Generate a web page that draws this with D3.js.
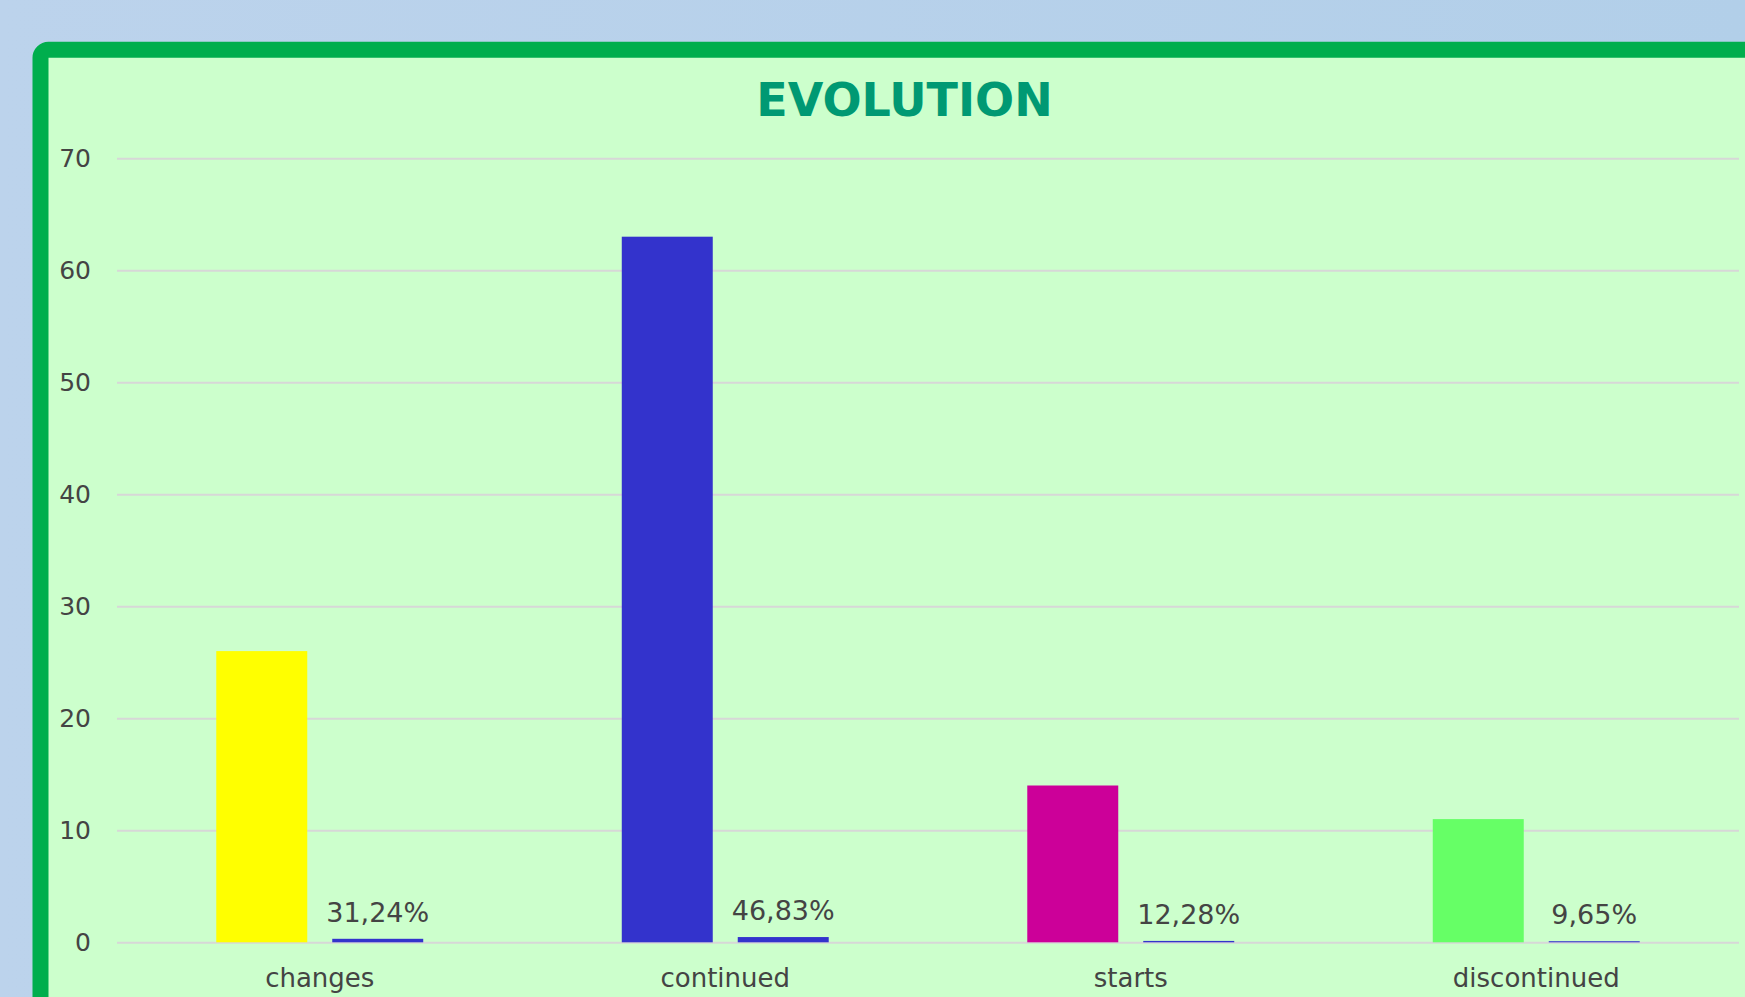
<!DOCTYPE html>
<html>
<head>
<meta charset="utf-8">
<script src="https://cdn.jsdelivr.net/npm/d3@7"></script>
<style>
  html, body { margin: 0; padding: 0; overflow: hidden; }
  body { width: 1745px; height: 997px; }
  svg { display: block; font-family: "DejaVu Sans", Verdana, sans-serif; }
</style>
</head>
<body>
<div id="chart"></div>
<script>
// Data
const categories = ['changes', 'continued', 'starts', 'discontinued'];
const counts = [26, 63, 14, 11];
const shares = [0.3124, 0.4683, 0.1228, 0.0965];
const barColors = ['#ffff00', '#3333cc', '#cc0099', '#66ff66'];
const shareColor = '#3333cc';
const yTicks = [0, 10, 20, 30, 40, 50, 60, 70];

// Layout
const W = 1745, H = 997;
const plotLeft = 117, plotRight = 1739;
const plotTop = 158.3, plotBottom = 942.3;

const svg = d3.select('#chart')
    .append('svg')
    .attr('width', W)
    .attr('height', H);

// Page background
const grad = svg.append('defs').append('linearGradient')
    .attr('id', 'bg').attr('x1', '0%').attr('x2', '100%');
grad.append('stop').attr('offset', '0%').attr('stop-color', '#bcd3ec');
grad.append('stop').attr('offset', '100%').attr('stop-color', '#b2cfe9');
svg.append('rect').attr('width', W).attr('height', H).attr('fill', 'url(#bg)');

// Panel with thick green border (runs off the right and bottom edges)
svg.append('rect')
    .attr('x', 40.5).attr('y', 49.7)
    .attr('width', 1800).attr('height', 1100)
    .attr('rx', 8)
    .attr('fill', '#ccffcc')
    .attr('stroke', '#00ae4d')
    .attr('stroke-width', 16);

// Title
svg.append('text')
    .attr('x', 904.5).attr('y', 116)
    .attr('text-anchor', 'middle')
    .attr('font-size', '46px')
    .attr('font-weight', 'bold')
    .attr('fill', '#009973')
    .text('EVOLUTION');

// Scales
const x0 = d3.scaleBand()
    .domain(categories)
    .range([plotLeft, plotRight])
    .padding(0);

const x1 = d3.scaleBand()
    .domain(['count', 'share'])
    .range([0, x0.bandwidth()])
    .paddingInner(0.2155)
    .paddingOuter(0.856);

const yScale = d3.scaleLinear()
    .domain([0, 70])
    .range([plotBottom, plotTop]);

// Y axis with gridlines
const yAxis = svg.append('g')
    .attr('transform', `translate(${plotLeft},0)`)
    .call(d3.axisLeft(yScale)
        .tickValues(yTicks)
        .tickSize(-(plotRight - plotLeft))
        .tickPadding(26));
yAxis.select('.domain').remove();
yAxis.selectAll('.tick line')
    .attr('stroke', '#d7d7d7')
    .attr('stroke-width', 2);
yAxis.selectAll('.tick text')
    .attr('font-size', '25px')
    .attr('fill', '#444')
    .attr('font-family', '"DejaVu Sans", Verdana, sans-serif');

// X axis labels
const xAxis = svg.append('g')
    .attr('transform', `translate(0,${plotBottom})`)
    .call(d3.axisBottom(x0).tickSize(0));
xAxis.select('.domain').remove();
xAxis.selectAll('.tick text')
    .attr('y', 44.5)
    .attr('dy', null)
    .attr('font-size', '26px')
    .attr('fill', '#444')
    .attr('font-family', '"DejaVu Sans", Verdana, sans-serif');

// Bars
const groups = svg.selectAll('g.cat')
    .data(categories)
    .enter()
    .append('g')
    .attr('class', 'cat')
    .attr('transform', d => `translate(${x0(d)},0)`);

groups.append('rect')
    .attr('x', x1('count'))
    .attr('width', x1.bandwidth())
    .attr('y', (d, i) => yScale(counts[i]))
    .attr('height', (d, i) => plotBottom - yScale(counts[i]))
    .attr('fill', (d, i) => barColors[i]);

groups.append('rect')
    .attr('x', x1('share'))
    .attr('width', x1.bandwidth())
    .attr('y', (d, i) => yScale(shares[i]))
    .attr('height', (d, i) => plotBottom - yScale(shares[i]))
    .attr('fill', shareColor);

// Percentage labels above the small bars
const pct = v => d3.format('.2f')(v * 100).replace('.', ',') + '%';
groups.append('text')
    .attr('x', x1('share') + x1.bandwidth() / 2)
    .attr('y', (d, i) => yScale(shares[i]) - 17)
    .attr('text-anchor', 'middle')
    .attr('font-size', '27px')
    .attr('fill', '#444')
    .text((d, i) => pct(shares[i]));
</script>
</body>
</html>
